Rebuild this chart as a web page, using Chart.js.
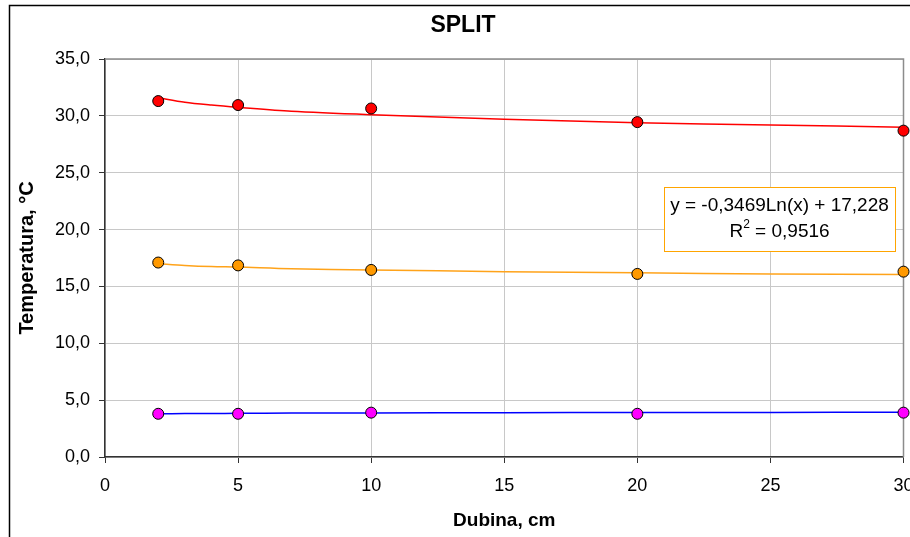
<!DOCTYPE html>
<html>
<head>
<meta charset="utf-8">
<script src="https://cdn.jsdelivr.net/npm/chart.js@4/dist/chart.umd.min.js"></script>
<style>
  html, body { margin: 0; padding: 0; background: #fff; }
  #wrap { width: 910px; height: 537px; }
</style>
</head>
<body>
<div id="wrap"><canvas id="splitChart" width="910" height="537"></canvas></div>
<script>
// measured depths (cm) and temperatures (°C)
const depths = [2, 5, 10, 20, 30];
const redTemps = [31.3, 30.95, 30.65, 29.45, 28.7];
const orangeTemps = [17.1, 16.85, 16.45, 16.1, 16.3];
const magentaTemps = [3.8, 3.8, 3.9, 3.8, 3.9];

// trendlines
const trendDepths = [2, 3, 4, 5, 7, 10, 15, 20, 25, 30];
const redTrend = [31.6, 31.2, 30.95, 30.75, 30.4, 30.1, 29.7, 29.4, 29.2, 29.0];
const orangeTrend = [17.0, 16.85, 16.75, 16.7, 16.55, 16.45, 16.3, 16.2, 16.1, 16.05];
const blueTrend = [3.8, 3.82, 3.83, 3.84, 3.86, 3.88, 3.9, 3.91, 3.92, 3.93];

const xTicks = [0, 5, 10, 15, 20, 25, 30];
const yTicks = [0, 5, 10, 15, 20, 25, 30, 35];

const chartTitle = 'SPLIT';
const xTitle = 'Dubina, cm';
const yTitle = 'Temperatura, °C';
const equationText = 'y = -0,3469Ln(x) + 17,228';
const r2Text = ' = 0,9516';

const FONT = '"Liberation Sans", Arial, sans-serif';

function pairs(xs, ys) {
    return xs.map((x, i) => ({ x: x, y: ys[i] }));
}

function trendSet(data, color) {
    return {
        data: pairs(trendDepths, data),
        borderColor: color,
        borderWidth: 1.5,
        pointRadius: 0,
        showLine: true,
        tension: 0.3,
        fill: false,
        order: 2
    };
}

function pointSet(data, color) {
    return {
        data: data,
        backgroundColor: color,
        borderColor: '#000',
        borderWidth: 1,
        pointRadius: 5.5,
        showLine: false,
        clip: false,
        order: 1
    };
}

// frame, plot border, title and the equation box
const decorations = {
    id: 'decorations',
    beforeDatasetsDraw(chart) {
        const { ctx, chartArea: a } = chart;
        ctx.save();
        ctx.strokeStyle = '#8c8c8c';
        ctx.lineWidth = 1.5;
        ctx.beginPath();
        ctx.moveTo(a.left, a.top);
        ctx.lineTo(a.right, a.top);
        ctx.lineTo(a.right, a.bottom);
        ctx.stroke();
        ctx.restore();
    },
    afterDraw(chart) {
        const { ctx, chartArea: a } = chart;
        ctx.save();
        // outer chart frame
        ctx.strokeStyle = '#000';
        ctx.lineWidth = 1.5;
        ctx.beginPath();
        ctx.moveTo(9.5, 600);
        ctx.lineTo(9.5, 5.5);
        ctx.lineTo(960, 5.5);
        ctx.stroke();

        // title
        ctx.fillStyle = '#000';
        ctx.font = 'bold 23px ' + FONT;
        ctx.textAlign = 'center';
        ctx.textBaseline = 'middle';
        ctx.fillText(chartTitle, 463, 26);

        // trendline label box
        const bx = a.left + 559, by = a.top + 128, bw = 231, bh = 64;
        ctx.fillStyle = '#fff';
        ctx.fillRect(bx, by, bw, bh);
        ctx.strokeStyle = '#ffa500';
        ctx.lineWidth = 1;
        ctx.strokeRect(bx + 0.5, by + 0.5, bw, bh);

        const cx = bx + bw / 2;
        ctx.fillStyle = '#000';
        ctx.font = '19px ' + FONT;
        ctx.fillText(equationText, cx, by + 19);

        const rW = ctx.measureText('R').width;
        ctx.font = '12px ' + FONT;
        const supW = ctx.measureText('2').width;
        ctx.font = '19px ' + FONT;
        const restW = ctx.measureText(r2Text).width;
        let tx = cx - (rW + supW + restW) / 2;
        const ty = by + 45;
        ctx.textAlign = 'left';
        ctx.fillText('R', tx, ty);
        tx += rW;
        ctx.font = '12px ' + FONT;
        ctx.fillText('2', tx, ty - 7);
        tx += supW;
        ctx.font = '19px ' + FONT;
        ctx.fillText(r2Text, tx, ty);
        ctx.restore();
    }
};

document.addEventListener('DOMContentLoaded', () => {
    const ctx = document.getElementById('splitChart').getContext('2d');
    new Chart(ctx, {
        type: 'scatter',
        data: {
            datasets: [
                pointSet(pairs(depths, redTemps), '#ff0000'),
                pointSet(pairs(depths, orangeTemps), '#ff9900'),
                pointSet(pairs(depths, magentaTemps), '#ff00ff'),
                trendSet(redTrend, '#ff0000'),
                trendSet(orangeTrend, '#ffa31a'),
                trendSet(blueTrend, '#0000ff')
            ]
        },
        options: {
            responsive: false,
            animation: false,
            events: [],
            layout: {
                padding: { top: 59, right: 4, left: 0, bottom: 0 }
            },
            scales: {
                x: {
                    type: 'linear',
                    min: 0,
                    max: 30,
                    afterBuildTicks: scale => {
                        scale.ticks = xTicks.map(v => ({ value: v }));
                    },
                    afterFit: scale => {
                        scale.height = 80;
                        scale.paddingLeft = 0;
                        scale.paddingRight = 0;
                    },
                    ticks: {
                        color: '#000',
                        padding: 12,
                        maxRotation: 0,
                        font: { family: FONT, size: 18 }
                    },
                    grid: {
                        color: '#c8c8c8',
                        lineWidth: 1,
                        tickLength: 6,
                        tickColor: '#333'
                    },
                    border: { color: '#333', width: 1.5 },
                    title: {
                        display: true,
                        text: xTitle,
                        color: '#000',
                        font: { family: FONT, size: 19, weight: 'bold' },
                        padding: { top: 0, bottom: 5 }
                    }
                },
                y: {
                    type: 'linear',
                    min: 0,
                    max: 35,
                    afterBuildTicks: scale => {
                        scale.ticks = yTicks.map(v => ({ value: v }));
                    },
                    afterFit: scale => {
                        scale.width = 105;
                    },
                    ticks: {
                        color: '#000',
                        padding: 9,
                        font: { family: FONT, size: 18 },
                        callback: v => v.toFixed(1).replace('.', ',')
                    },
                    grid: {
                        color: '#c8c8c8',
                        lineWidth: 1,
                        tickLength: 6,
                        tickColor: '#333'
                    },
                    border: { color: '#333', width: 1.5 },
                    title: {
                        display: true,
                        text: yTitle,
                        color: '#000',
                        font: { family: FONT, size: 20, weight: 'bold' },
                        padding: { top: 15, bottom: 0 }
                    }
                }
            },
            plugins: {
                legend: { display: false },
                tooltip: { enabled: false },
                title: { display: false }
            }
        },
        plugins: [decorations]
    });
});
</script>
</body>
</html>
